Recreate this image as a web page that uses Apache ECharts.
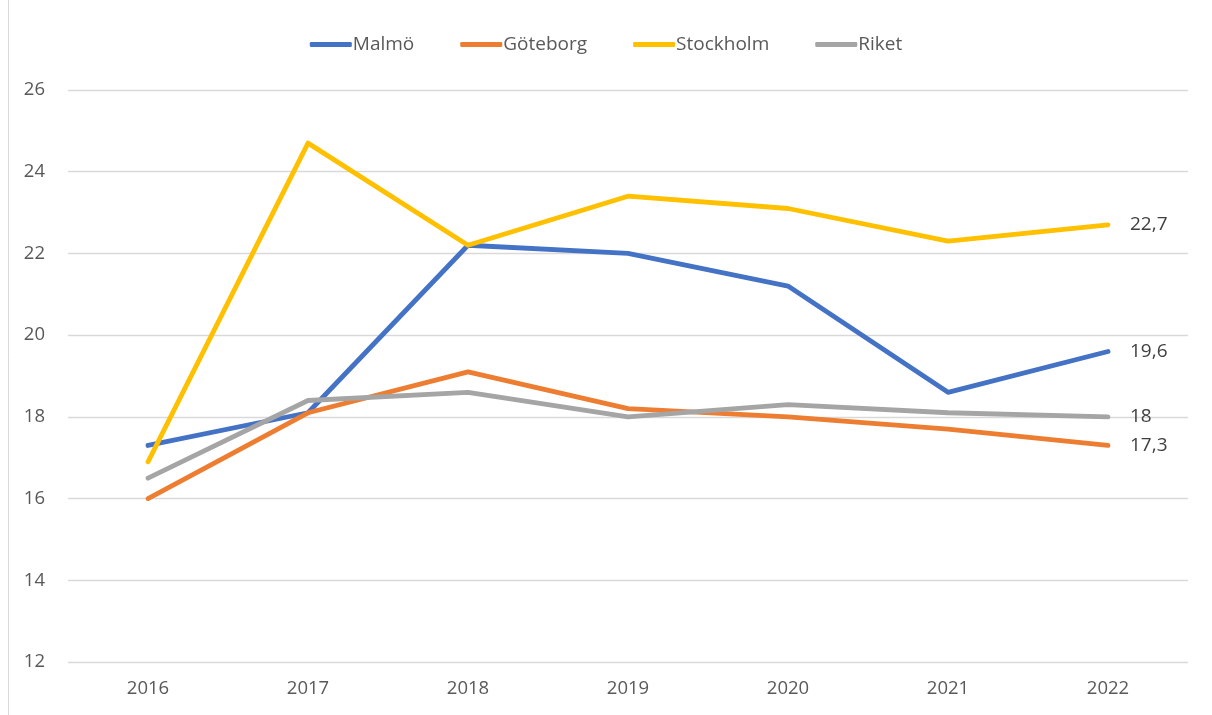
<!DOCTYPE html>
<html>
<head>
<meta charset="utf-8">
<script src="https://cdn.jsdelivr.net/npm/echarts@6/dist/echarts.min.js"></script>
<style>
  html, body { margin: 0; padding: 0; background: #fff; }
  #chart { width: 1212px; height: 715px; }
</style>
</head>
<body>
<div id="chart"></div>
<script>
var years = ['2016', '2017', '2018', '2019', '2020', '2021', '2022'];
var malmo = [17.3, 18.1, 22.2, 22.0, 21.2, 18.6, 19.6];
var goteborg = [16.0, 18.1, 19.1, 18.2, 18.0, 17.7, 17.3];
var stockholm = [16.9, 24.7, 22.2, 23.4, 23.1, 22.3, 22.7];
var riket = [16.5, 18.4, 18.6, 18.0, 18.3, 18.1, 18.0];

var names = ['Malmö', 'Göteborg', 'Stockholm', 'Riket'];
var colors = ['#4472C4', '#ED7D31', '#FFC000', '#A5A5A5'];
var font = '"Open Sans", "Noto Sans", sans-serif';

var ec = echarts.init(document.getElementById('chart'));
var option = {
	animation: false,
	color: colors,
	legend: {
		top: 30,
		left: 'center',
		itemWidth: 42,
		itemHeight: 5,
		itemGap: 46,
		icon: 'roundRect',
		textStyle: { color: '#595959', fontSize: 19, fontFamily: font, padding: [0, 0, 0, -4] },
		data: names
	},
	grid: { left: 68, right: 24, top: 90, bottom: 53 },
	graphic: [{
		type: 'line',
		shape: { x1: 8.5, y1: 0, x2: 8.5, y2: 715 },
		style: { stroke: '#d9d9d9', lineWidth: 1 }
	}],
	xAxis: {
		type: 'category',
		data: years,
		boundaryGap: true,
		axisLine: { show: false },
		axisTick: { show: false },
		axisLabel: { color: '#595959', fontSize: 18.5, fontFamily: font, margin: 17 }
	},
	yAxis: {
		type: 'value',
		min: 12,
		max: 26,
		interval: 2,
		axisLine: { show: false },
		axisTick: { show: false },
		axisLabel: { color: '#595959', fontSize: 18.5, fontFamily: font, margin: 23 },
		splitLine: { lineStyle: { color: '#d9d9d9', width: 1.3 } }
	},
	series: [
		{ name: names[0], type: 'line', data: malmo },
		{ name: names[1], type: 'line', data: goteborg },
		{ name: names[2], type: 'line', data: stockholm },
		{ name: names[3], type: 'line', data: riket }
	].map(function(s, i) {
		s.symbol = 'none';
		s.lineStyle = { width: 4.8, color: colors[i], cap: 'round', join: 'round' };
		// value label only at the end of each line, swedish decimal comma
		s.endLabel = {
			show: true,
			distance: 22,
			color: '#404040',
			fontSize: 19,
			fontFamily: font,
			formatter: function(p) { return String(p.value).replace('.', ','); }
		};
		return s;
	})
};
ec.setOption(option);
</script>
</body>
</html>
